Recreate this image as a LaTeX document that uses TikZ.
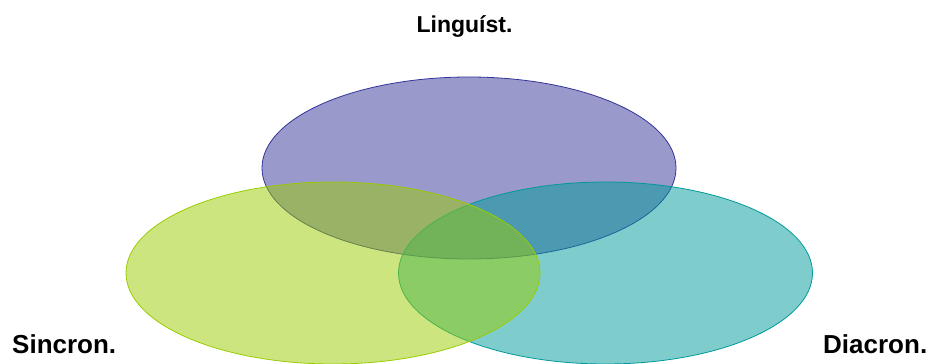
\documentclass[tikz,border=0pt]{standalone}
\usepackage{fontspec}
\setmainfont{Liberation Sans}
\usetikzlibrary{shapes.geometric}
\definecolor{cpurple}{HTML}{333399}
\definecolor{cgreen}{HTML}{99CC00}
\definecolor{cteal}{HTML}{009999}
\begin{document}
\begin{tikzpicture}[x=1pt,y=1pt,
  ell/.style={ellipse, inner sep=0pt, minimum width=414pt, minimum height=182pt, line width=0.8pt, fill opacity=0.5},
  lab/.style={inner sep=0pt, font=\bfseries\fontsize{26}{31}\selectfont}]
\useasboundingbox (0,0) rectangle (930,364);
\node[ell, draw=cpurple, fill=cpurple] (ling) at (469,196) {};
\node[ell, draw=cteal, fill=cteal] (diac) at (605.5,91) {};
\node[ell, draw=cgreen, fill=cgreen] (sinc) at (333,91) {};
\node[lab, anchor=base, font=\bfseries\fontsize{23}{28}\selectfont] (tl) at (464.5,331) {Linguíst.};
\node[lab, anchor=base west] (sl) at (12,10) {Sincron.};
\node[lab, anchor=base west] (dl) at (823,10) {Diacron.};
\end{tikzpicture}
\end{document}
